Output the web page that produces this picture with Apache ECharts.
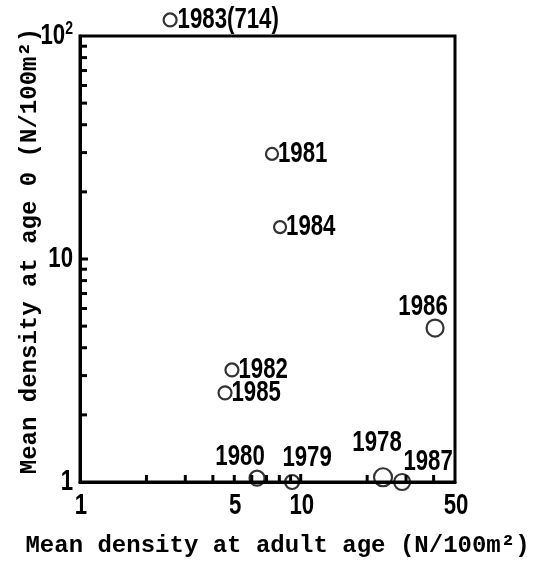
<!DOCTYPE html>
<html>
<head>
<meta charset="utf-8">
<script src="https://cdn.jsdelivr.net/npm/echarts@6/dist/echarts.min.js"></script>
<style>html,body{margin:0;padding:0;background:#fff}#c{width:540px;height:566px}</style>
</head>
<body>
<div id="c"></div>
<script>
// ---- data ----
const years = ['1983', '1981', '1984', '1986', '1982', '1985', '1980', '1979', '1978', '1987'];
const adultDensity = [2.56, 7.41, 8.06, 40.6, 4.88, 4.54, 6.34, 9.14, 23.6, 28.8];
const age0Density = [714, 29.6, 13.9, 4.9, 3.18, 2.51, 1.04, 1.0, 1.05, 1.0];
const xTickLabels = [1, 5, 10, 50];
const yTickLabels = [1, 10, 100];
const xMinorTicks = [2, 3, 4, 5, 6, 7, 8, 9, 10, 20, 30, 40];
const yMinorTicks = [2, 3, 4, 5, 6, 7, 8, 9, 10, 20, 30, 40, 50, 60, 70, 80, 90];

// ---- presentation ----
const xMin = 1, xMax = 50, yMin = 1, yMax = 100;
const yPlotCap = 118; // off-scale value is drawn just above the frame
const numFont = 'bold 30px "Liberation Sans", "DejaVu Sans", sans-serif';
const supFont = 'bold 19px "Liberation Sans", "DejaVu Sans", sans-serif';
const narrow = 0.74;
const titleFont = '"Liberation Mono", "DejaVu Sans Mono", monospace';
// label placement: side, gap from circle edge, extra shift
const pointStyle = {
  '1983': {size: 13, side: 'right', gap: 1, dx: 0, dy: 0, text: '1983(714)'},
  '1981': {size: 12, side: 'right', gap: 0, dx: 0, dy: 0},
  '1984': {size: 12, side: 'right', gap: 0, dx: 0, dy: 0},
  '1986': {size: 17, side: 'top', gap: -2, dx: -12, dy: 0},
  '1982': {size: 13, side: 'right', gap: 0, dx: 0, dy: 0},
  '1985': {size: 13, side: 'right', gap: 0, dx: 0, dy: 0},
  '1980': {size: 15, side: 'top', gap: -1, dx: -17, dy: 0},
  '1979': {size: 14, side: 'top', gap: 2, dx: 15, dy: 0},
  '1978': {size: 18, side: 'top', gap: 11, dx: -6, dy: 0},
  '1987': {size: 16, side: 'top', gap: -3, dx: 26, dy: 0}
};

const chart = echarts.init(document.getElementById('c'), null, {renderer: 'canvas'});

const pointValues = years.map((y, i) => [adultDensity[i], Math.min(age0Density[i], yPlotCap), i]);

function tickLine(horizontal) {
  return function (params, api) {
    const p = api.coord([api.value(0), api.value(1)]);
    const len = (api.value(0) === 10 || api.value(1) === 10) ? 8 : 7;
    return {
      type: 'line',
      shape: horizontal ? {x1: p[0], y1: p[1], x2: p[0] + len, y2: p[1]}
                        : {x1: p[0], y1: p[1], x2: p[0], y2: p[1] - len},
      style: {stroke: '#000', lineWidth: 3}
    };
  };
}

const option = {
  backgroundColor: '#fff',
  animation: false,
  grid: {left: 80, right: 85, top: 36, bottom: 84, show: true,
         borderColor: '#000', borderWidth: 3, backgroundColor: 'transparent'},
  xAxis: {
    type: 'log', logBase: 10, min: xMin, max: xMax,
    name: 'Mean density at adult age (N/100m²)',
    nameLocation: 'middle', nameGap: 52,
    nameTextStyle: {fontFamily: titleFont, fontSize: 24, fontWeight: 'bold', color: '#000',
                    padding: [0, 0, 0, 20]},
    axisLine: {show: true, lineStyle: {color: '#000', width: 3}},
    axisTick: {show: false}, axisLabel: {show: false}, splitLine: {show: false},
    minorTick: {show: false}, minorSplitLine: {show: false}
  },
  yAxis: {
    type: 'log', logBase: 10, min: yMin, max: yMax,
    name: 'Mean density at age 0 (N/100m²)',
    nameLocation: 'middle', nameGap: 38, nameRotate: 90,
    nameTextStyle: {fontFamily: titleFont, fontSize: 24, fontWeight: 'bold', color: '#000',
                    padding: [0, 0, 0, 16]},
    axisLine: {show: true, lineStyle: {color: '#000', width: 3}},
    axisTick: {show: false}, axisLabel: {show: false}, splitLine: {show: false}
  },
  series: [
    {
      type: 'custom', coordinateSystem: 'cartesian2d', silent: true, z: 3,
      data: xMinorTicks.map(v => [v, yMin]),
      renderItem: tickLine(false)
    },
    {
      type: 'custom', coordinateSystem: 'cartesian2d', silent: true, z: 3,
      data: yMinorTicks.map(v => [xMin, v]),
      renderItem: tickLine(true)
    },
    {
      type: 'custom', coordinateSystem: 'cartesian2d', silent: true, z: 3,
      data: xTickLabels.map(v => [v, yMin]),
      renderItem: function (params, api) {
        const p = api.coord([api.value(0), api.value(1)]);
        return {type: 'text', x: p[0] + 1, y: p[1] + 9, scaleX: narrow,
          style: {text: String(api.value(0)), font: numFont, fill: '#000',
                  align: 'center', verticalAlign: 'top', textAlign: 'center', textVerticalAlign: 'top'}};
      }
    },
    {
      type: 'custom', coordinateSystem: 'cartesian2d', silent: true, z: 3,
      data: yTickLabels.map(v => [xMin, v]),
      renderItem: function (params, api) {
        const v = api.value(1);
        const p = api.coord([api.value(0), v]);
        const exp = Math.round(Math.log10(v));
        const txt = exp >= 2 ? '{b|10}{s|' + exp + '}' : '{b|' + v + '}';
        return {type: 'text', x: p[0] - 7, y: p[1], scaleX: narrow,
          style: {text: txt, fill: '#000',
                  align: 'right', verticalAlign: 'middle', textAlign: 'right', textVerticalAlign: 'middle',
                  rich: {
                    b: {font: numFont, fill: '#000'},
                    s: {font: supFont, fill: '#000', verticalAlign: 'top', padding: [0, 0, 14, 0]}
                  }}};
      }
    },
    {
      type: 'scatter', clip: false, z: 4,
      symbol: 'circle',
      symbolSize: function (val) { return pointStyle[years[val[2]]].size; },
      itemStyle: {color: 'rgba(0,0,0,0)', borderColor: '#000', borderWidth: 2.2},
      data: pointValues
    },
    {
      type: 'custom', coordinateSystem: 'cartesian2d', silent: true, z: 5, clip: false,
      data: pointValues,
      renderItem: function (params, api) {
        const i = api.value(2);
        const y = years[i];
        const s = pointStyle[y];
        const p = api.coord([api.value(0), api.value(1)]);
        const r = s.size / 2;
        let x, yy, align, valign;
        if (s.side === 'right') {
          x = p[0] + r + s.gap + s.dx; yy = p[1] + s.dy; align = 'left'; valign = 'middle';
        } else {
          x = p[0] + s.dx; yy = p[1] - r - s.gap + s.dy; align = 'center'; valign = 'bottom';
        }
        return {type: 'text', x: x, y: yy, scaleX: narrow,
          style: {text: s.text || y, font: numFont, fill: '#000',
                  align: align, verticalAlign: valign, textAlign: align, textVerticalAlign: valign}};
      }
    }
  ]
};
chart.setOption(option);
</script>
</body>
</html>
